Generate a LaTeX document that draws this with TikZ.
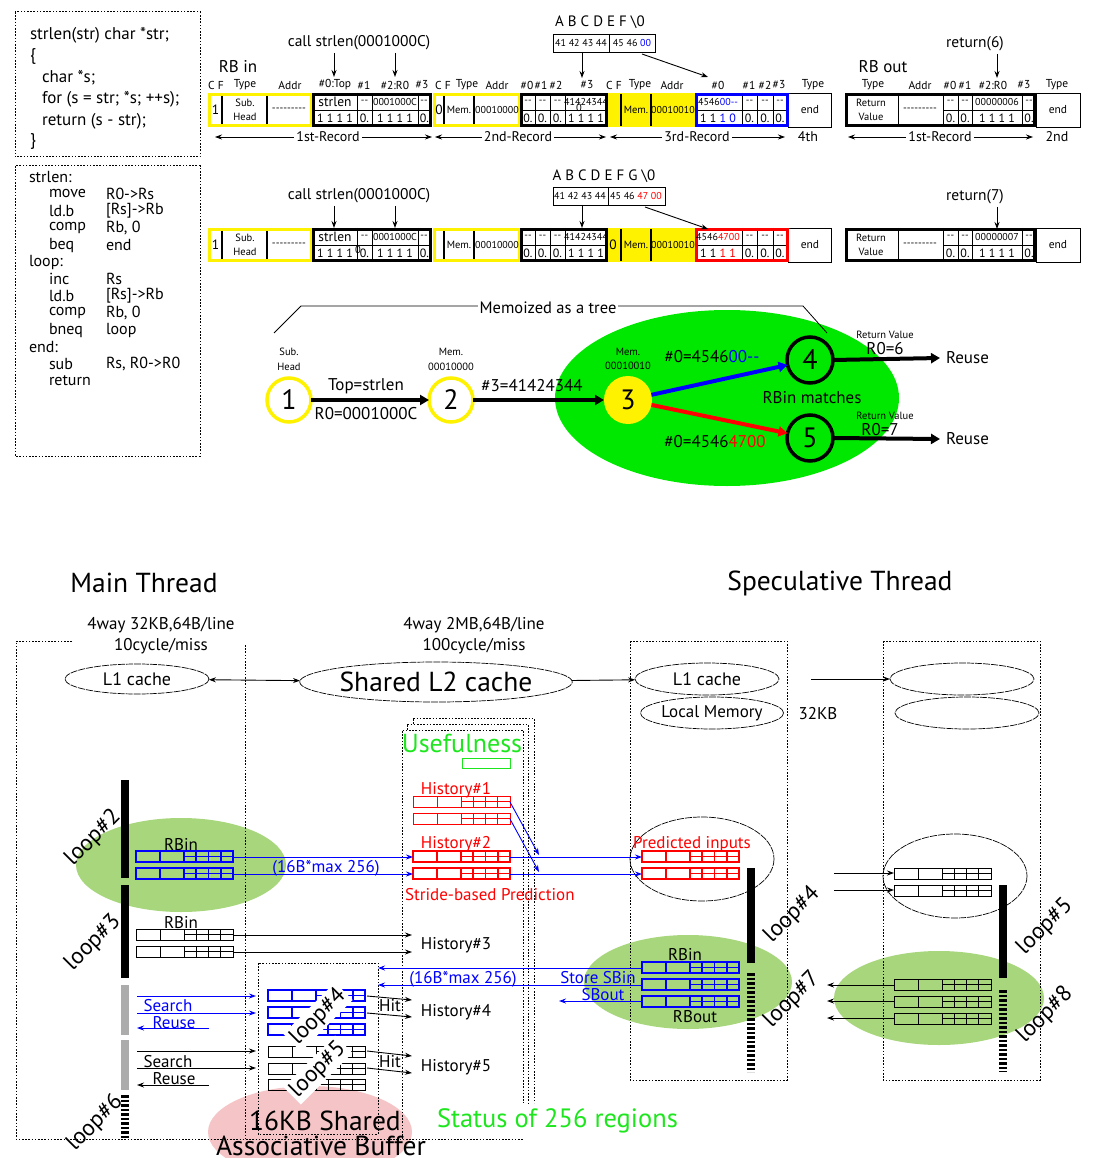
\documentclass[tikz,border=0pt]{standalone}
\usepackage{fontspec}
\setmainfont{PT Sans}
\usetikzlibrary{arrows.meta,shapes.geometric}
\definecolor{yel}{RGB}{255,242,0}
\definecolor{blu}{RGB}{0,0,255}
\definecolor{lgreen}{RGB}{168,214,124}
\definecolor{bgreen}{RGB}{0,232,0}
\definecolor{ugreen}{RGB}{30,230,30}
\definecolor{pinkc}{RGB}{245,196,198}
\newcounter{nn}
\newcommand\T[3][]{\stepcounter{nn}\node[#1] (n\arabic{nn}) at (#2) {#3};}
\newcommand\dd{-{}-}
\newcommand\dl{-{}-{}-{}-{}-{}-{}-{}-{}-}
\newcommand\rrow[3]{%
 \draw[#3] (#1,#2) rectangle ++(97,11);
 \draw[#3] ({#1+24},#2) -- ++(0,11) ({#1+48},#2) -- ++(0,11) ({#1+60.25},#2) -- ++(0,11) ({#1+72.5},#2) -- ++(0,11) ({#1+84.75},#2) -- ++(0,11) ({#1+48},{#2+5.5}) -- ({#1+97},{#2+5.5});}
\newcommand\RecRow{%
 \fill[yel] (608,0) rectangle (695,34);
 \draw[yel,line width=3] (209.5,1.5) rectangle (311,32.5);
 \draw[yel,line width=3] (434.5,1.5) rectangle (519,32.5);
 \draw[line width=1.5] (222,3)--(222,31) (267,3)--(267,31) (444,3)--(444,31) (474,3)--(474,31) (621,1)--(621,33) (651,1)--(651,33);
 \T[cb]{215.5,17}{1}
 \T[sm]{245,10}{Sub.} \T[sm]{245,24}{Head} \T[sm]{289,17}{\dl}
 \draw[line width=3] (313.5,1.5) rectangle (430.5,32.5);
 \draw[line width=0.7] (313.5,17)--(430.5,17) (357,0)--(357,34) (372,0)--(372,34) (418,0)--(418,34);
 \T[cb]{335,9}{strlen} \T[cl]{364.5,9}{\dd} \T[cl]{395,9}{0001000C} \T[cl]{424,9}{\dd}
 \T[cbb]{335,25.5}{1 1 1 1} \T[cbb]{364.5,25.5}{0.} \T[cbb]{395,25.5}{1 1 1 1} \T[cbb]{424.5,25.5}{0.}
 \T[sm]{459,17}{Mem.} \T[cl]{497,17}{00010000}
 \draw[line width=3] (521.5,1.5) rectangle (606.5,32.5);
 \draw[line width=0.7] (521.5,17)--(606.5,17) (535,0)--(535,34) (550,0)--(550,34) (565,0)--(565,34);
 \T[cl]{528,9}{\dd} \T[cl]{542.5,9}{\dd} \T[cl]{557.5,9}{\dd} \T[cl]{586,9}{41424344}
 \T[cbb]{528,25.5}{0.} \T[cbb]{542.5,25.5}{0.} \T[cbb]{557.5,25.5}{0.} \T[cbb]{586,25.5}{1 1 1 1}
 \T[sm]{636,17}{Mem.} \T[cl]{673,17}{00010010}
 \draw[line width=0.7] (696.5,17)--(787,17) (742,0)--(742,34) (757,0)--(757,34) (773,0)--(773,34);
 \T[cl]{749.5,9}{\dd} \T[cl]{765,9}{\dd} \T[cl]{780,9}{\dd}
 \T[cbb]{749.5,25.5}{0.} \T[cbb]{765,25.5}{0.} \T[cbb]{780,25.5}{0.}
 \draw[line width=0.8] (788,0) rectangle (831,34);
 \T[hdr]{810,17}{end}
 \draw[line width=3] (846.5,1.5) rectangle (1034.5,32.5);
 \draw[line width=0.8] (898,0)--(898,34) (943,0)--(943,34);
 \draw[line width=0.7] (943,17)--(1034.5,17) (958,0)--(958,34) (972,0)--(972,34) (1022,0)--(1022,34);
 \T[sm]{871,10}{Return} \T[sm]{871,24}{Value} \T[sm]{920,17}{\dl}
 \T[cl]{950.5,9}{\dd} \T[cl]{965,9}{\dd} \T[cl]{1029,9}{\dd}
 \T[cbb]{950.5,25.5}{0.} \T[cbb]{965,25.5}{0.} \T[cbb]{997,25.5}{1 1 1 1} \T[cbb]{1029,25.5}{0.}
 \draw[line width=0.8] (1036,0) rectangle (1080,34);
 \T[hdr]{1058,17}{end}}
\begin{document}
\begin{tikzpicture}[x=1pt,y=-1pt,
 every node/.style={inner sep=0pt,outer sep=0pt},
 code/.style={font=\fontsize{17}{19}\selectfont,anchor=west},
 asm/.style={font=\fontsize{16}{18}\selectfont,anchor=west},
 hdr/.style={font=\fontsize{11.5}{13}\selectfont},
 cl/.style={font=\fontsize{10}{11}\selectfont},
 cb/.style={font=\fontsize{13.5}{15}\selectfont},
 cbb/.style={font=\fontsize{12}{13}\selectfont},
 sm/.style={font=\fontsize{10.5}{12}\selectfont},
 lab/.style={font=\fontsize{17}{19}\selectfont},
 mtx/.style={font=\fontsize{14}{16}\selectfont},
 big/.style={font=\fontsize{27.5}{30}\selectfont},
 loopl/.style={font=\fontsize{23}{25}\selectfont,rotate=45},
 dotbox/.style={dash pattern=on 1.6pt off 1.6pt,line width=1},
 dsh/.style={draw,dash pattern=on 7pt off 1pt,line width=0.7},
 arr/.style={-{Stealth[length=7,width=5]},line width=0.9},
 tarr/.style={-{Triangle[length=9,width=10]},line width=4},
 bt/.style={draw=blu,line width=1.8},
 rT/.style={draw=red,line width=1.8},
 rt/.style={draw=red,line width=1},
 kt/.style={draw=black,line width=0.8},
]
\useasboundingbox (0,0) rectangle (1093,1158);

% ---------------- code boxes
\draw[dotbox] (15,12) rectangle (200,157);
\T[code]{30,35}{strlen(str) char *str;}
\T[code]{30,56}{\{}
\T[code]{42,78}{char *s;}
\T[code]{42,99}{for (s = str; *s; ++s);}
\T[code]{42,121}{return (s - str);}
\T[code]{30,141}{\}}
\draw[dotbox] (15,166) rectangle (200,456);
\T[asm]{29,177}{strlen:}
\T[asm]{49,194}{move} \T[asm]{106,194}{R0->Rs}
\T[asm]{49,211}{ld.b} \T[asm]{106,211}{[Rs]->Rb}
\T[asm]{49,228}{comp} \T[asm]{106,228}{Rb, 0}
\T[asm]{49,245}{beq} \T[asm]{106,245}{end}
\T[asm]{29,262}{loop:}
\T[asm]{49,279}{inc} \T[asm]{106,279}{Rs}
\T[asm]{49,296}{ld.b} \T[asm]{106,296}{[Rs]->Rb}
\T[asm]{49,313}{comp} \T[asm]{106,313}{Rb, 0}
\T[asm]{49,330}{bneq} \T[asm]{106,330}{loop}
\T[asm]{29,347}{end:}
\T[asm]{49,364}{sub} \T[asm]{106,364}{Rs, R0->R0}
\T[asm]{49,381}{return}

% ---------------- record row 1
\begin{scope}[yshift=-93pt]
\RecRow
\draw[blu,line width=3] (696.5,1.5) rectangle (787,32.5);
\T[cl]{718,9}{4546\textcolor{blu}{00\dd}}
\T[cbb]{718,25.5}{1 1 \textcolor{blu}{1 0}}
\T[cb]{439,17}{0}
\T[sm]{579,15}{0}
\T[cl]{997,9}{00000006}
\end{scope}
% ---------------- record row 2
\begin{scope}[yshift=-228pt]
\RecRow
\draw[red,line width=3] (696.5,1.5) rectangle (787,32.5);
\T[cl]{718,9}{4546\textcolor{red}{4700}}
\T[cbb]{718,25.5}{1 1 \textcolor{red}{1 1}}
\T[sm]{358,22}{0}
\T[cb]{613,17}{0}
\T[cl]{997,9}{00000007}
\end{scope}

% headers
\foreach \x/\t in {216/C F,245/Type,290/Addr,335/\#0:Top,364/\#1,395/\#2:R0,422/\#3,443/C F,467/Type,497/Addr,527/\#0,541/\#1,556/\#2,587/\#3,614/C F,640/Type,672/Addr,718/\#0,749/\#1,765/\#2,779/\#3,813/Type,873/Type,920/Addr,950/\#0,965/\#1,993/\#2:R0,1024/\#3,1057/Type}
  {\T[hdr]{\x,85}{\t}}
\T[font=\fontsize{17}{19}\selectfont]{238,67}{RB in}
\T[font=\fontsize{17}{19}\selectfont]{883,67}{RB out}
\T[font=\fontsize{15.5}{17}\selectfont]{359,43}{call strlen(0001000C)}
\T[font=\fontsize{15.5}{17}\selectfont]{359,196}{call strlen(0001000C)}
\T[font=\fontsize{15.5}{17}\selectfont]{975,44}{return(6)}
\T[font=\fontsize{15.5}{17}\selectfont]{975,197}{return(7)}
% arrows from call labels
\coordinate (ca1) at (334,53); \coordinate (ca2) at (395,53); \coordinate (ha1) at (334,77); \coordinate (ha2) at (395,77);
\draw[arr] (ca1) -- (ha1); \draw[arr] (ca2) -- (ha2);
\coordinate (cb1) at (334,206); \coordinate (cb2) at (395,206); \coordinate (hb1) at (334,228); \coordinate (hb2) at (395,228);
\draw[arr] (cb1) -- (hb1); \draw[arr] (cb2) -- (hb2);
\coordinate (ra1) at (997,54); \coordinate (rh1) at (997,78); \draw[arr] (ra1) -- (rh1);
\coordinate (ra2) at (997,207); \coordinate (rh2) at (997,229); \draw[arr] (ra2) -- (rh2);
% string boxes
\T[font=\fontsize{15}{17}\selectfont]{600,22}{A B C D E F \textbackslash 0}
\node[draw,line width=0.9,minimum width=102,minimum height=18] (sb1) at (604,43) {};
\draw[line width=0.9] (609,34)--(609,52);
\T[cl]{581,43.5}{41 42 43 44} \T[cl]{632,43.5}{45 46 \textcolor{blu}{00}}
\coordinate (sa1) at (582,52); \coordinate (sh1) at (582,78); \draw[arr] (sa1) -- (sh1);
\coordinate (sa2) at (642,54); \coordinate (sh2) at (708,77); \draw[arr] (sa2) -- (sh2);
\T[font=\fontsize{15}{17}\selectfont]{604,176}{A B C D E F G \textbackslash 0}
\node[draw,line width=0.9,minimum width=112,minimum height=18] (sb2) at (609,196) {};
\draw[line width=0.9] (608,187)--(608,205);
\T[cl]{580,196.5}{41 42 43 44} \T[cl]{636,196.5}{45 46 \textcolor{red}{47 00}}
\coordinate (sa3) at (582,205); \coordinate (sh3) at (582,228); \draw[arr] (sa3) -- (sh3);
\coordinate (sa4) at (645,207); \coordinate (sh4) at (708,229); \draw[arr] (sa4) -- (sh4);
% record spans
\foreach \a/\b/\c/\t in {215/432/328/1st-Record,435/606/518/2nd-Record,610/785/697/3rd-Record,848/1033/940/1st-Record}{
  \draw[{Stealth[length=7,width=5]}-{Stealth[length=7,width=5]},line width=0.8] (\a,137) -- (\b,137);
  \T[mtx,fill=white,inner xsep=2pt]{\c,137}{\t}}
\T[mtx]{808,137}{4th}
\T[mtx]{1057,137}{2nd}

% ---------------- tree
\fill[bgreen] (727,398) ellipse (172 and 88);
\draw[line width=0.8] (274,333)--(301,306)--(803,306)--(827,333);
\T[font=\fontsize{16.5}{18}\selectfont,fill=white,inner xsep=2pt]{548,308}{Memoized as a tree}
\node[circle,draw=yel,line width=3.5,fill=white,minimum size=44,font=\fontsize{28}{30}\selectfont] (c1) at (289,400) {1};
\node[circle,draw=yel,line width=3.5,fill=white,minimum size=44,font=\fontsize{28}{30}\selectfont] (c2) at (451,400) {2};
\node[circle,fill=yel,minimum size=48,font=\fontsize{28}{30}\selectfont] (c3) at (628,400) {3};
\node[circle,draw=black,line width=3.5,minimum size=46,font=\fontsize{28}{30}\selectfont] (c4) at (810,360) {4};
\node[circle,draw=black,line width=3.5,minimum size=46,font=\fontsize{28}{30}\selectfont] (c5) at (810,438) {5};
\T[sm]{289,352}{Sub.} \T[sm]{289,367}{Head}
\T[sm]{451,352}{Mem.} \T[sm]{451,367}{00010000}
\T[sm]{628,352}{Mem.} \T[sm]{628,366}{00010010}
\draw[tarr] (c1) -- (c2);
\draw[tarr] (c2) -- (c3);
\draw[tarr,blu] (c3) -- (c4);
\draw[tarr,red] (c3) -- (c5);
\T[lab]{366,386}{Top=strlen}
\T[lab]{366,414}{R0=0001000C}
\T[lab]{532,386}{\#3=41424344}
\T[lab]{712,357}{\#0=4546\textcolor{blu}{00\dd}}
\T[lab]{715,442}{\#0=4546\textcolor{red}{4700}}
\T[lab]{812,398}{RBin matches}
\T[sm]{885,335}{Return Value} \T[lab]{885,349}{R0=6}
\T[sm]{885,416}{Return Value} \T[lab]{880,430}{R0=7}
\node[lab,anchor=west] (re1) at (946,358) {Reuse};
\node[lab,anchor=west] (re2) at (946,439) {Reuse};
\draw[tarr] (c4.east) -- ([xshift=-6pt]re1.west);
\draw[tarr] (c5.east) -- ([xshift=-6pt]re2.west);

% ---------------- bottom: backgrounds
\fill[lgreen] (181,865) ellipse (105 and 47);
\fill[lgreen] (688,982) ellipse (104 and 47);
\fill[lgreen] (939,998) ellipse (105 and 47);
\fill[pinkc] (310,1132) ellipse (102 and 46);

\T[big]{144,583}{Main Thread}
\T[big]{840,583}{Speculative Thread}
\T[lab]{161,625}{4way 32KB,64B/line}
\T[lab]{161,646}{10cycle/miss}
\T[lab]{474,625}{4way 2MB,64B/line}
\T[lab]{474,646}{100cycle/miss}

% frames
\draw[dotbox] (72,641)--(16,641)--(16,1139)--(523,1139);
\draw[dotbox] (245,645)--(245,1139);
\draw[dotbox] (402,1139)--(402,730)--(523,730)--(523,1103);
\draw[dotbox] (407,730)--(407,724)--(528,724)--(528,1103);
\draw[dotbox] (413,724)--(413,718)--(534,718)--(534,1103);
\draw[dotbox] (630,641) rectangle (787,1080);
\draw[dotbox] (883,641) rectangle (1040,1080);
\draw[dotbox] (258,963) rectangle (378,1134);

% caches
\node[ellipse,dsh,minimum width=144,minimum height=30,font=\fontsize{18}{20}\selectfont] (l1a) at (137,679) {L1 cache};
\node[ellipse,dsh,minimum width=248,minimum height=40,big] (l2) at (436,682) {Shared L2 cache};
\node[ellipse,dsh,minimum width=144,minimum height=32,font=\fontsize{18}{20}\selectfont] (l1b) at (707,679) {L1 cache};
\node[ellipse,dsh,minimum width=140,minimum height=32,lab] (lmb) at (712,713) {Local Memory};
\node[ellipse,dsh,minimum width=144,minimum height=32] (l1c) at (962,679) {};
\node[ellipse,dsh,minimum width=144,minimum height=32] (lmc) at (967,713) {};
\draw[{Stealth[length=7,width=5]}-{Stealth[length=7,width=5]},line width=0.9] (l1a) -- (l2);
\draw[arr] (l2) -- (l1b);
\coordinate (sp) at (811,679);
\draw[arr] (sp) -- (l1c);
\T[lab]{818,714}{32KB}

\T[font=\fontsize{26}{28}\selectfont,text=ugreen]{462,743}{Usefulness}
\draw[ugreen,line width=1] (462,758) rectangle (510,768);

% dashed ellipses
\draw[dsh] (702,859) ellipse (72 and 42);
\draw[dsh] (955,876) ellipse (72 and 42);

% bars
\draw[line width=8] (124.5,780)--(124.5,878);
\draw[line width=8] (124.5,885)--(124.5,978);
\fill[gray!65] (120.5,985) rectangle (128.5,1035);
\fill[gray!65] (120.5,1040) rectangle (128.5,1090);
\draw[line width=8,dash pattern=on 2.5pt off 2pt] (124.5,1095)--(124.5,1139);
\draw[line width=8] (751,868)--(751,963);
\draw[line width=8,dash pattern=on 2.5pt off 2pt] (751,973)--(751,1072);
\draw[line width=8] (1003,885)--(1003,978);
\draw[line width=8,dash pattern=on 2.5pt off 2pt] (1003,990)--(1003,1072);

% records
\rrow{136}{851}{bt} \rrow{136}{868}{bt}
\rrow{136}{929}{kt} \rrow{136}{946}{kt}
\rrow{413}{796}{rt} \rrow{413}{813}{rt}
\rrow{413}{851}{rT} \rrow{413}{868}{rT}
\rrow{642}{851}{rT} \rrow{642}{868}{rT}
\rrow{642}{962}{bt} \rrow{642}{979}{bt} \rrow{642}{996}{bt}
\rrow{894}{868}{kt} \rrow{894}{885}{kt}
\rrow{894}{979}{kt} \rrow{894}{996}{kt} \rrow{894}{1013}{kt}
\rrow{268}{990}{bt} \rrow{268}{1007}{bt} \rrow{268}{1024}{bt}
\rrow{268}{1046}{kt} \rrow{268}{1063}{kt} \rrow{268}{1079}{kt}

% loop labels
\T[loopl]{93,838}{loop\#2}
\T[loopl]{93,943}{loop\#3}
\T[loopl]{95,1123}{loop\#6}
\T[loopl]{792,915}{loop\#4}
\T[loopl]{792,1000}{loop\#7}
\T[loopl]{1045,927}{loop\#5}
\T[loopl]{1045,1015}{loop\#8}
\T[loopl,fill=white,inner sep=2pt]{318,1017}{loop\#4}
\T[loopl,fill=white,inner sep=2pt]{318,1070}{loop\#5}

% texts
\T[lab]{181,845}{RBin}
\T[lab]{181,923}{RBin}
\T[lab,text=red]{456,790}{History\#1}
\T[lab,text=red]{456,844}{History\#2}
\T[lab,text=red,anchor=west]{405,895}{Stride-based Prediction}
\T[lab]{456,945}{History\#3}
\T[lab]{456,1012}{History\#4}
\T[lab]{456,1067}{History\#5}
\T[lab]{390,1006}{Hit}
\T[lab]{390,1062}{Hit}
\T[lab,text=blu]{168,1006}{Search}
\T[lab,text=blu]{174,1023}{Reuse}
\T[lab]{168,1062}{Search}
\T[lab]{174,1079}{Reuse}
\T[lab,text=blu]{326,868}{(16B*max 256)}
\T[lab,text=blu]{463,979}{(16B*max 256)}
\T[lab,text=blu]{598,978}{Store SBin}
\T[lab,text=blu]{603,995}{SBout}
\T[lab,text=red]{692,844}{Predicted inputs}
\T[lab]{685,955}{RBin}
\T[lab]{695,1017}{RBout}
\T[big]{325,1121}{16KB Shared}
\T[big]{321,1146}{Associative Buffer}
\T[font=\fontsize{26.5}{28}\selectfont,text=ugreen,anchor=west]{437,1121}{Status of 256 regions}

% arrows bottom
\foreach \ya/\yb/\xa/\xb/\c in {857/857/233/413/blu,874/874/233/413/blu,802/855/510/539/blu,819/872/510/539/blu,857/857/510/642/blu,874/874/510/642/blu,935/935/233/412/black,952/952/233/412/black,996/996/137/256/blu,1013/1013/137/256/blu,1028/1028/209/137/blu,1051/1051/137/256/black,1068/1068/137/256/black,1085/1085/209/137/black,996/1000/367/412/black,1013/1017/367/412/black,1051/1056/367/412/black,1068/1073/367/412/black,968/968/642/378/blu,985/985/642/378/blu,1001/1001/642/559/blu,873/873/834/894/black,890/890/834/894/black,985/985/894/827/black,1001/1001/894/827/black,1018/1018/894/827/black}
{\coordinate (pa) at (\xa,\ya); \coordinate (pb) at (\xb,\yb); \draw[arr,\c] (pa) -- (pb);}
\end{tikzpicture}
\end{document}
